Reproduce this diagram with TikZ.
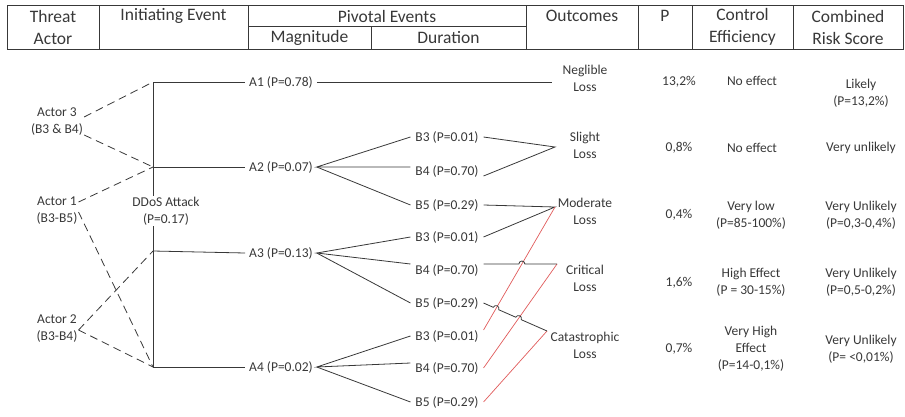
\documentclass[tikz,border=0pt]{standalone}
\usepackage{fontspec}
\setmainfont{Carlito}
\usepackage{xcolor}
\usepackage{tikz}
\usetikzlibrary{calc, intersections}

\definecolor{ink}{HTML}{383838}
\definecolor{redline}{HTML}{E05A5A}

\tikzset{
  lbl/.style={font=\fontsize{13.5}{17}\selectfont, text=ink, align=center, inner sep=1pt},
  hdr/.style={font=\fontsize{17.5}{22}\selectfont, text=ink, align=center, inner sep=0pt},
  bev/.style={lbl, outer sep=4pt},
  tbl/.style={draw=ink, line width=0.9pt},
  edge/.style={draw=ink, line width=0.8pt},
  dashline/.style={draw=ink, line width=0.8pt, dash pattern=on 8pt off 5pt},
  redge/.style={draw=redline, line width=0.7pt}
}

\begin{document}
\begin{tikzpicture}[x=1pt, y=1pt]
\useasboundingbox (0,0) rectangle (905,-416);

\draw[tbl] (7,-5) rectangle (903,-49);
\draw[tbl] (248,-26) -- (526,-26);
\foreach \cx in {99,248,526,638,692,793}
  \draw[tbl] (\cx,-5) -- (\cx,-49);
\draw[tbl] (371,-26) -- (371,-49);

\node[hdr] (hthr) at (53,-27) {Threat\\Actor};
\node[hdr] (hini) at (173.5,-16) {Initiating Event};
\node[hdr] (hpiv) at (387,-16) {Pivotal Events};
\node[hdr] (hmag) at (309.5,-38) {Magnitude};
\node[hdr] (hdur) at (448.5,-38) {Duration};
\node[hdr] (hout) at (582,-16) {Outcomes};
\node[hdr] (hp) at (665,-16) {P};
\node[hdr] (hctl) at (742.5,-27) {Control\\Efficiency};
\node[hdr] (hcmb) at (848,-27) {Combined\\Risk Score};

\coordinate (j1) at (153,-82);
\coordinate (j2) at (153,-167);
\coordinate (j3) at (153,-251);
\coordinate (j4) at (153,-367);

\node[lbl] (act3) at (57,-122) {Actor 3\\(B3 \& B4)};
\node[lbl] (act1) at (57,-211) {Actor 1\\(B3-B5)};
\node[lbl] (act2) at (57,-329) {Actor 2\\(B3-B4)};

\draw[dashline] ([yshift=5]act3.east) -- (j1);
\draw[dashline] ([yshift=-13]act3.east) -- (j2);
\draw[dashline] ([yshift=9]act1.east) -- (j2);
\draw[dashline] ([yshift=-1]act1.east) -- (j4);
\draw[dashline] ([yshift=-1]act2.east) -- (j3);
\draw[dashline] ([yshift=-1]act2.east) -- (j4);

\draw[edge] (j1) -- (j4);
\node[lbl, fill=white] (ddos) at (166,-211) {DDoS Attack\\(P=0.17)};

\node[lbl, outer sep=3pt] (a1) at (281,-82) {A1 (P=0.78)};
\node[lbl, outer sep=3pt] (a2) at (281,-167) {A2 (P=0.07)};
\node[lbl, outer sep=3pt] (a3) at (281,-253) {A3 (P=0.13)};
\node[lbl, outer sep=3pt] (a4) at (281,-367) {A4 (P=0.02)};

\draw[edge] (j1) -- (a1.west);
\draw[edge] (j2) -- (a2.west);
\draw[edge] (j3) -- (a3.west);
\draw[edge] (j4) -- (a4.west);

\node[bev] (a2b3) at (447,-137) {B3 (P=0.01)};
\node[bev] (a2b4) at (447,-171) {B4 (P=0.70)};
\node[bev] (a2b5) at (447,-205) {B5 (P=0.29)};
\node[bev] (a3b3) at (447,-237) {B3 (P=0.01)};
\node[bev] (a3b4) at (447,-270) {B4 (P=0.70)};
\node[bev] (a3b5) at (447,-303) {B5 (P=0.29)};
\node[bev] (a4b3) at (447,-336) {B3 (P=0.01)};
\node[bev] (a4b4) at (447,-368) {B4 (P=0.70)};
\node[bev] (a4b5) at (447,-402) {B5 (P=0.29)};

\draw[edge] (a2b3.west) -- (a2.east) -- ([yshift=4]a2b4.west);
\draw[edge] (a2.east) -- (a2b5.west);
\draw[edge] (a3b3.west) -- (a3.east) -- ([yshift=6]a3b4.west);
\draw[edge] (a3.east) -- (a3b5.west);
\draw[edge] (a4b3.west) -- (a4.east) -- ([yshift=5]a4b4.west);
\draw[edge] (a4.east) -- (a4b5.west);

\node[lbl] (neg) at (585,-78) {Neglible\\Loss};
\node[lbl] (sli) at (585,-145) {Slight\\Loss};
\node[lbl] (mod) at (585,-211) {Moderate\\Loss};
\node[lbl] (cri) at (585,-278) {Critical\\Loss};
\node[lbl] (cat) at (585,-345) {Catastrophic\\Loss};

\coordinate (negj) at (552,-82);
\coordinate (slij) at (555,-147);
\coordinate (modj) at (555,-207);
\coordinate (crij) at (557,-264);
\coordinate (catj) at (547,-331);

\draw[edge] (a1.east) -- (negj);
\draw[edge] (a2b3.east) -- (slij) -- ([yshift=-5]a2b4.east);
\draw[edge] (a2b5.east) -- (modj) -- (a3b3.east);

\draw[redge, name path=r1] ([yshift=6]a4b3.east) -- (modj);
\draw[redge, name path=r2] (a4b4.east) -- (crij);
\draw[redge] (a4b5.east) -- (catj);

\path[name path=k1] ([yshift=6]a3b4.east) -- (crij);
\path[name path=k2] (a3b5.east) -- (catj);
\path[name intersections={of=r1 and k1, by=h1}];
\path[name intersections={of=r1 and k2, by=h2}];
\path[name intersections={of=r2 and k2, by=h3}];

\draw[edge] ([yshift=6]a3b4.east) -- ($(h1)!3pt!([yshift=6]a3b4.east)$)
  arc[start angle=180, end angle=0, radius=3] -- (crij);
\draw[edge] (a3b5.east) -- ($(h2)!3pt!(a3b5.east)$)
  arc[start angle=156, end angle=-24, radius=3] -- ($(h3)!3pt!(a3b5.east)$)
  arc[start angle=156, end angle=-24, radius=3] -- (catj);

\node[lbl] (p1) at (679,-82) {13,2\%};
\node[lbl] (p2) at (679,-148) {0,8\%};
\node[lbl] (p3) at (679,-215) {0,4\%};
\node[lbl] (p4) at (679,-283) {1,6\%};
\node[lbl] (p5) at (679,-349) {0,7\%};

\node[lbl] (c1) at (752,-81) {No effect};
\node[lbl] (c2) at (752,-148) {No effect};
\node[lbl] (c3) at (751,-215) {Very low\\(P=85-100\%)};
\node[lbl] (c4) at (751,-282) {High Effect\\(P = 30-15\%)};
\node[lbl] (c5) at (751,-349) {Very High\\Effect\\(P=14-0,1\%)};

\node[lbl] (s1) at (861,-93) {Likely\\(P=13,2\%)};
\node[lbl] (s2) at (861,-148) {Very unlikely};
\node[lbl] (s3) at (861,-215) {Very Unlikely\\(P=0,3-0,4\%)};
\node[lbl] (s4) at (861,-282) {Very Unlikely\\(P=0,5-0,2\%)};
\node[lbl] (s5) at (861,-349) {Very Unlikely\\(P= <0,01\%)};
\end{tikzpicture}
\end{document}
